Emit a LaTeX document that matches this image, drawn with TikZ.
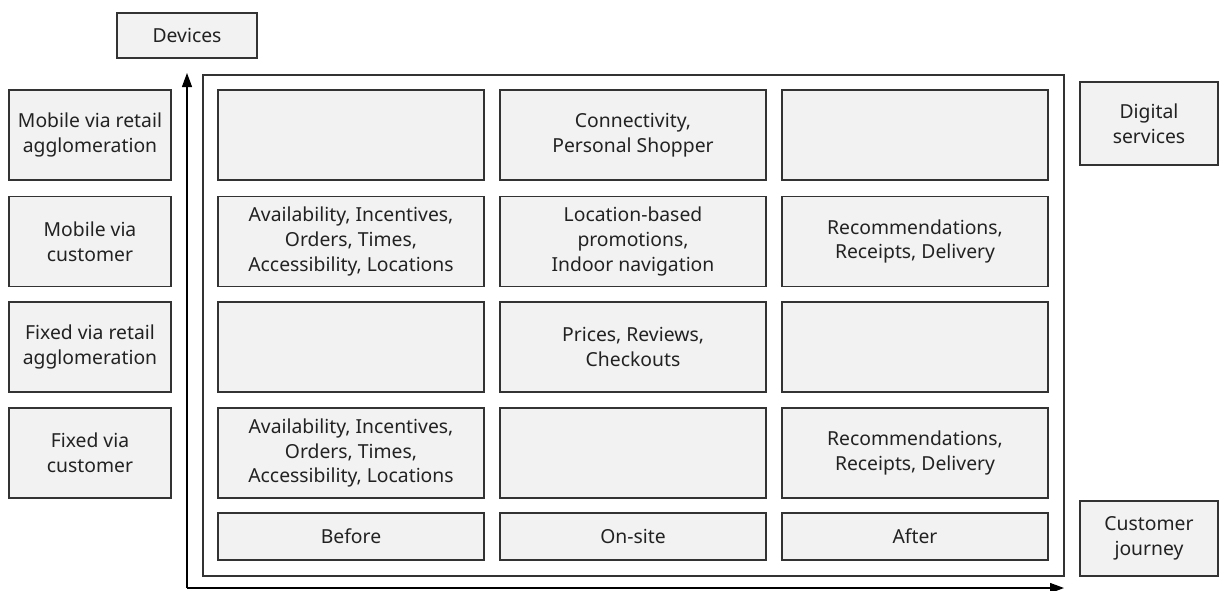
\documentclass[tikz,border=0pt]{standalone}
\usepackage{fontspec}
\setmainfont{Noto Sans}
\usetikzlibrary{arrows.meta}
\definecolor{cellfill}{HTML}{F2F2F2}
\definecolor{edge}{HTML}{333333}
\definecolor{txt}{HTML}{222222}
\tikzset{
  box/.style={draw=edge, fill=cellfill, line width=1pt, inner sep=0pt, align=center,
    text=txt, font=\fontsize{14.5}{18.5}\selectfont},
  sz/.style 2 args={minimum width=#1*0.75pt, minimum height=#2*0.75pt},
  frame/.style={draw=edge, line width=1pt, fill=none, inner sep=0pt},
  axis/.style={draw=black, line width=0.9pt, -{Triangle[length=10.5pt,width=7.5pt]}}
}
\begin{document}
\begin{tikzpicture}[x=0.75pt, y=-0.75pt]
\useasboundingbox (0,0) rectangle (1223,590);
% outer frame
\node[frame, sz={861}{501}] (frame) at (633.5,325.5) {};
% axes
\coordinate (origin) at (187,588);
\coordinate (ytip) at (187,73);
\coordinate (xtip) at (1064,588);
\draw[axis] (origin) -- (ytip);
\draw[axis] (origin) -- (xtip);
% axis labels
\node[box, sz={140}{45}] (devices) at (187,35.5) {Devices};
\node[box, sz={138}{83}] (digital) at (1149,123.5) {Digital\\services};
\node[box, sz={138}{75}] (journey) at (1149,538.5) {Customer\\journey};
% left boxes
\node[box, sz={162}{90}] (l1) at (90,135) {Mobile via retail\\agglomeration};
\node[box, sz={162}{90}] (l2) at (90,241.5) {Mobile via\\customer};
\node[box, sz={162}{90}] (l3) at (90,347) {Fixed via retail\\agglomeration};
\node[box, sz={162}{90}] (l4) at (90,453) {Fixed via\\customer};
% grid row 1
\node[box, sz={266}{90}] (c11) at (351,135) {};
\node[box, sz={266}{90}] (c12) at (633,135) {Connectivity,\\Personal Shopper};
\node[box, sz={266}{90}] (c13) at (915,135) {};
% row 2
\node[box, sz={266}{90}] (c21) at (351,241.5) {Availability, Incentives,\\Orders, Times,\\Accessibility, Locations};
\node[box, sz={266}{90}] (c22) at (633,241.5) {Location-based\\promotions,\\Indoor navigation};
\node[box, sz={266}{90}] (c23) at (915,241.5) {Recommendations,\\Receipts, Delivery};
% row 3
\node[box, sz={266}{90}] (c31) at (351,347) {};
\node[box, sz={266}{90}] (c32) at (633,347) {Prices, Reviews,\\Checkouts};
\node[box, sz={266}{90}] (c33) at (915,347) {};
% row 4
\node[box, sz={266}{90}] (c41) at (351,453) {Availability, Incentives,\\Orders, Times,\\Accessibility, Locations};
\node[box, sz={266}{90}] (c42) at (633,453) {};
\node[box, sz={266}{90}] (c43) at (915,453) {Recommendations,\\Receipts, Delivery};
% footer
\node[box, sz={266}{47}] (f1) at (351,536.5) {Before};
\node[box, sz={266}{47}] (f2) at (633,536.5) {On-site};
\node[box, sz={266}{47}] (f3) at (915,536.5) {After};
\end{tikzpicture}
\end{document}
